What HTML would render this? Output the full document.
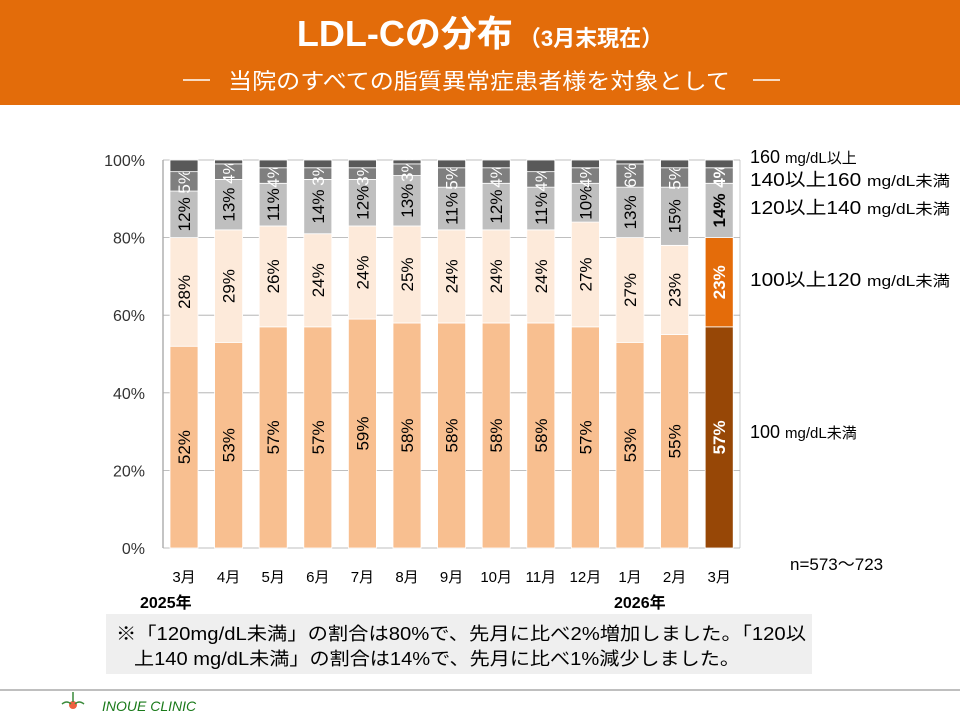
<!DOCTYPE html>
<html><head><meta charset="utf-8"><style>
body{margin:0;width:960px;height:720px;background:#fff;overflow:hidden;font-family:"Liberation Sans","Noto Sans CJK JP",sans-serif}
</style></head><body>
<svg id="s" width="960" height="720" xmlns="http://www.w3.org/2000/svg" font-family="Liberation Sans, Noto Sans CJK JP, sans-serif">
<rect x="0" y="0" width="960" height="105" fill="#E36C0A"/>
<text x="480" y="46" text-anchor="middle" fill="#fff" font-weight="bold" font-size="36">LDL-Cの分布<tspan font-size="22" dx="6">（3月末現在）</tspan></text>
<line x1="183" y1="80" x2="210" y2="80" stroke="#fff" stroke-width="1.5"/>
<line x1="753" y1="80" x2="780" y2="80" stroke="#fff" stroke-width="1.5"/>
<text x="228" y="89" fill="#fff" font-size="22" textLength="502" lengthAdjust="spacingAndGlyphs">当院のすべての脂質異常症患者様を対象として</text>
<line x1="163" y1="160" x2="163" y2="548" stroke="#888"/>
<line x1="740" y1="160" x2="740" y2="548" stroke="#ccc"/>
<g id="g"></g>
<text x="790" y="570" font-size="17" fill="#000">n=573～723</text>
<text x="140" y="608" font-size="16" font-weight="bold">2025年</text>
<text x="614" y="608" font-size="16" font-weight="bold">2026年</text>
<rect x="106" y="614" width="706" height="60" fill="#EFEFEF"/>
<text x="116" y="640" font-size="18" textLength="690" lengthAdjust="spacingAndGlyphs">※「120mg/dL未満」の割合は80%で、先月に比べ2%増加しました。「120以</text>
<text x="134" y="665" font-size="18" textLength="606" lengthAdjust="spacingAndGlyphs">上140 mg/dL未満」の割合は14%で、先月に比べ1%減少しました。</text>
<line x1="0" y1="690" x2="960" y2="690" stroke="#aaa" stroke-width="1.5"/>
<circle cx="73" cy="705" r="4" fill="#f06040"/>
<path d="M73 692 v10 M62 704 q5 -4 9 0 M84 704 q-5 -4 -9 0" stroke="#3a8a3a" fill="none" stroke-width="1.5"/>
<text x="102" y="711" font-size="14" font-style="italic" fill="#1a7a1a">INOUE CLINIC</text>
<g font-size="18" fill="#000">
<text x="750" y="163">160 <tspan font-size="15">mg/dL以上</tspan></text>
<text x="750" y="186" textLength="200" lengthAdjust="spacingAndGlyphs">140以上160 <tspan font-size="15">mg/dL未満</tspan></text>
<text x="750" y="214" textLength="200" lengthAdjust="spacingAndGlyphs">120以上140 <tspan font-size="15">mg/dL未満</tspan></text>
<text x="750" y="286" textLength="200" lengthAdjust="spacingAndGlyphs">100以上120 <tspan font-size="15">mg/dL未満</tspan></text>
<text x="750" y="438">100 <tspan font-size="15">mg/dL未満</tspan></text>
</g>
</svg>
<script>
var d=[[52,28,12,5],[53,29,13,4],[57,26,11,4],[57,24,14,3],[59,24,12,3],[58,25,13,3],[58,24,11,5],[58,24,12,4],[58,24,11,4],[57,27,10,4],[53,27,13,6],[55,23,15,5],[57,23,14,4]];
var m=["3月","4月","5月","6月","7月","8月","9月","10月","11月","12月","1月","2月","3月"];
var c=["#F8BF90","#FDEADA","#BFBFBF","#7F7F7F","#595959"];
var c2=["#974706","#E46C0A","#BFBFBF","#7F7F7F","#595959"];
var s="",y0=548,k=3.88;
for(var p=0;p<=100;p+=20){var y=y0-p*k;s+='<line x1="163" x2="740" y1="'+y+'" y2="'+y+'" stroke="#aaa" stroke-width="0.8"/><text x="145" y="'+(y+6)+'" font-size="16" text-anchor="end" fill="#333">'+p+'%</text>';}
for(var i=0;i<13;i++){var cx=184+i*44.6,x=cx-14,acc=0,v=d[i].slice();v.push(100-v[0]-v[1]-v[2]-v[3]);var last=i==12;
for(var j=0;j<5;j++){var yt=y0-(acc+v[j])*k,h=v[j]*k;s+='<rect x="'+x+'" y="'+yt+'" width="28" height="'+h+'" fill="'+(last?c2[j]:c[j])+'" stroke="#fff" stroke-width="0.8"/>';
if(j<4){var ly=yt+h/2,col=(j<3)?(last&&j<2?"#fff":"#000"):"#fff";s+='<text transform="translate('+(cx+6)+','+ly+') rotate(-90)" text-anchor="middle" font-size="17" fill="'+col+'"'+(last?' font-weight="bold"':'')+'>'+v[j]+'%</text>';}
acc+=v[j];}
s+='<text x="'+cx+'" y="582" font-size="15" text-anchor="middle">'+m[i]+'</text>';}
document.getElementById("g").innerHTML=s;
</script>
</body></html>
